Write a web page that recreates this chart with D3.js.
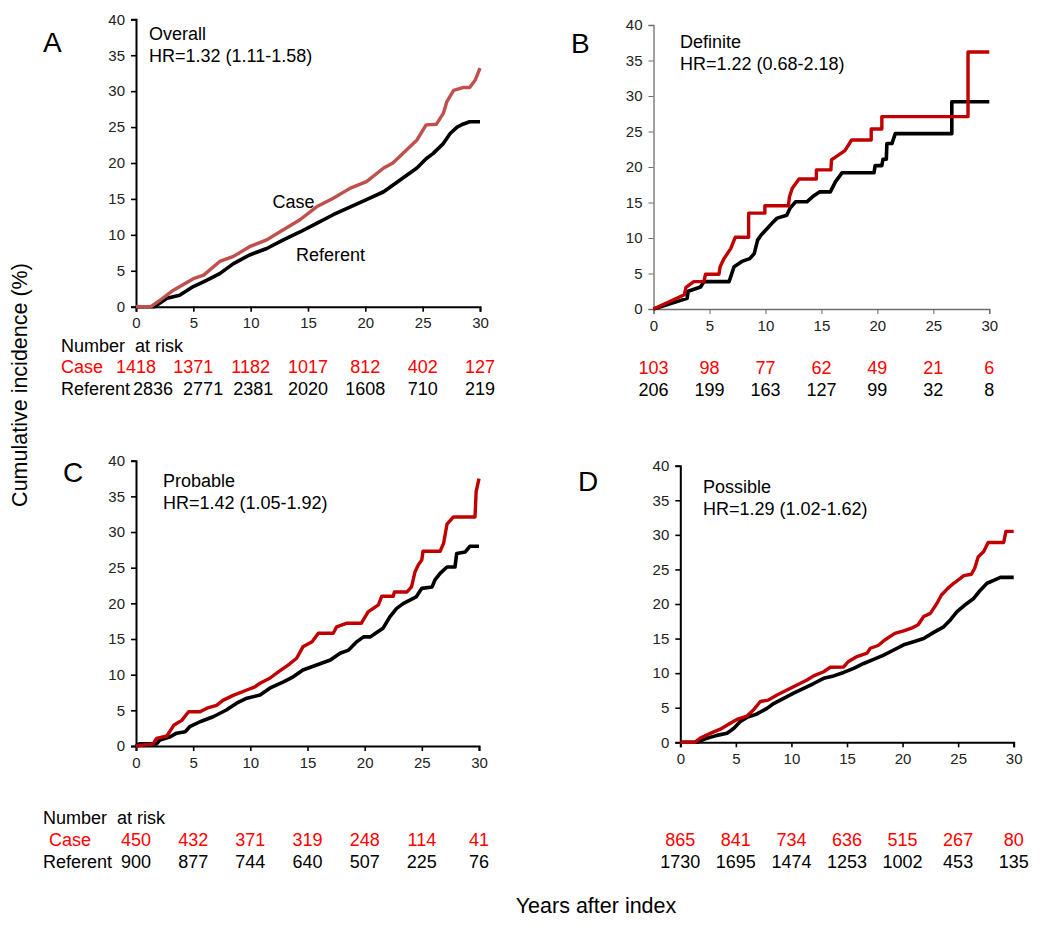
<!DOCTYPE html>
<html>
<head>
<meta charset="utf-8">
<script src="https://cdn.jsdelivr.net/npm/d3@7"></script>
<style>
  html, body { margin: 0; padding: 0; background: #fff; }
  svg { display: block; }
  text { font-family: "Liberation Sans", Arial, sans-serif; }
</style>
</head>
<body>
<svg id="chart" width="1050" height="931"></svg>
<script>
// ---------------- DATA ----------------
const riskYears = [0, 5, 10, 15, 20, 25, 30];
const xTicks = [0, 5, 10, 15, 20, 25, 30];
const yTicks = [0, 5, 10, 15, 20, 25, 30, 35, 40];

// Panel A: Overall
const overallCase = [[0,0],[1.3,0],[2.1,0.9],[3.26,2.3],[5,3.9],[5.9,4.4],[7.3,6.3],[8.5,7.0],[9.9,8.35],[11.4,9.3],[12.85,10.7],[14.3,12.1],[15.75,13.9],[17.2,15.1],[18.7,16.5],[20.1,17.4],[21.6,19.3],[22.4,20.0],[23,20.9],[24.5,23.2],[25.3,25.3],[26.2,25.4],[26.8,26.9],[27.1,28.5],[27.7,30.1],[28.5,30.5],[29.1,30.5],[29.6,31.6],[30,33.2]];
const overallRef = [[0,0],[1.6,0],[2.7,1.16],[3.8,1.6],[5,2.8],[6.2,3.7],[7.3,4.6],[8.5,6.0],[9.9,7.2],[11.4,8.1],[12.85,9.3],[14.3,10.4],[15.75,11.6],[17.2,12.8],[18.7,13.9],[20.1,14.9],[21.6,16.0],[23,17.6],[24.5,19.3],[25.3,20.6],[25.9,21.3],[26.8,22.7],[27.4,24.1],[28,25.0],[28.5,25.4],[29.1,25.75],[30,25.75]];
const overallRiskCase = [1418, 1371, 1182, 1017, 812, 402, 127];
const overallRiskRef = [2836, 2771, 2381, 2020, 1608, 710, 219];

// Panel B: Definite
const definiteCase = [[0,0],[2.75,2.0],[2.9,3.05],[3.6,3.85],[4.5,3.85],[4.65,4.9],[5.85,4.9],[5.95,5.96],[6.3,7.1],[6.9,8.5],[7.3,10.1],[8.5,10.1],[8.5,13.5],[9.95,13.5],[9.95,14.55],[12.05,14.55],[12.15,15.8],[12.4,17.0],[13.0,18.3],[14.55,18.3],[14.55,19.6],[15.85,19.6],[15.9,21.0],[17.1,22.3],[17.7,23.8],[19.45,23.8],[19.45,25.35],[20.4,25.35],[20.4,27.1],[28.1,27.1],[28.1,36.2],[30,36.2]];
const definiteRef = [[0,0],[3.0,1.5],[3.1,2.5],[4.2,3.1],[4.5,3.85],[6.75,3.85],[7.2,5.96],[7.9,6.7],[8.6,7.1],[9.0,7.8],[9.3,9.7],[9.6,10.4],[10.2,11.4],[10.6,12.1],[11.05,12.8],[11.9,13.2],[12.2,14.2],[12.7,15.1],[13.7,15.1],[14.2,15.8],[14.85,16.5],[15.8,16.5],[16.25,17.9],[16.85,19.2],[19.7,19.2],[19.8,20.2],[20.4,20.2],[20.5,21.1],[20.8,21.1],[20.85,23.3],[21.3,23.3],[21.6,24.7],[26.65,24.7],[26.65,29.2],[30,29.2]];
const definiteRiskCase = [103, 98, 77, 62, 49, 21, 6];
const definiteRiskRef = [206, 199, 163, 127, 99, 32, 8];

// Panel C: Probable
const probableCase = [[0,0],[1.5,0.3],[1.8,1.07],[2.7,1.4],[3.3,2.9],[4.0,3.6],[4.6,4.8],[5.6,4.8],[6.2,5.3],[7.05,5.7],[7.6,6.4],[8.5,7.1],[9.7,7.85],[10.4,8.3],[10.85,8.8],[11.7,9.5],[12.45,10.4],[13.3,11.35],[14.05,12.3],[14.6,13.9],[15.4,14.6],[15.95,15.8],[17.25,15.8],[17.55,16.7],[18.4,17.2],[19.7,17.2],[20.3,18.8],[21.2,19.8],[21.5,21.0],[22.5,21.0],[22.6,21.6],[23.7,21.6],[24.1,22.3],[24.4,24.4],[24.7,25.4],[25.0,26.1],[25.1,27.3],[26.6,27.3],[26.9,28.4],[27.2,31.1],[27.75,32.1],[29.65,32.1],[29.75,35.65],[30,37.5]];
const probableRef = [[0,0],[0.3,0.3],[1.8,0.3],[2.1,0.85],[3.0,1.3],[3.55,1.8],[4.3,2.0],[4.7,2.7],[5.6,3.4],[6.75,4.1],[7.9,5.05],[8.8,6.0],[9.7,6.7],[10.85,7.15],[11.7,8.1],[12.9,9.0],[13.75,9.7],[14.6,10.65],[15.8,11.35],[17.0,12.05],[17.85,13.0],[18.6,13.45],[19.3,14.6],[19.9,15.3],[20.5,15.3],[21.05,15.9],[21.6,16.5],[22.2,18.1],[22.8,19.3],[23.4,20.0],[24.0,20.5],[24.5,20.9],[25.0,22.1],[25.9,22.3],[26.15,23.3],[26.6,24.2],[27.2,25.1],[27.9,25.1],[28.05,27.0],[28.8,27.2],[29.2,28.0],[30,28.0]];
const probableRiskCase = [450, 432, 371, 319, 248, 114, 41];
const probableRiskRef = [900, 877, 744, 640, 507, 225, 76];

// Panel D: Possible
const possibleCase = [[0,0],[1.3,0],[1.8,0.6],[2.7,1.3],[3.6,1.9],[4.5,2.75],[5.1,3.3],[6.0,3.8],[6.6,4.7],[7.2,5.9],[7.9,6.1],[8.7,6.85],[9.6,7.55],[10.5,8.3],[11.4,9.0],[12,9.6],[12.9,10.2],[13.5,10.85],[14.7,10.9],[15.1,11.65],[15.9,12.4],[16.8,12.9],[17.1,13.6],[17.8,14.0],[18.4,14.8],[19.3,15.75],[20.1,16.1],[20.8,16.5],[21.4,17.0],[21.9,18.2],[22.5,18.65],[23.1,20.1],[23.5,21.3],[24.1,22.3],[24.6,23.0],[25.2,23.7],[25.5,24.1],[26.2,24.3],[26.5,25.2],[26.8,26.8],[27.3,27.6],[27.7,28.9],[29.1,28.9],[29.3,30.5],[30,30.5]];
const possibleRef = [[0,0],[1.5,0],[2.4,0.6],[3.3,1.0],[4.2,1.3],[4.8,2.0],[5.4,3.0],[6,3.6],[6.9,4.1],[7.8,4.9],[8.4,5.6],[9.3,6.35],[10.2,7.1],[11.1,7.8],[12,8.5],[12.9,9.25],[13.8,9.6],[14.7,10.1],[15.6,10.7],[16.5,11.4],[17.4,12.0],[18.3,12.6],[19.2,13.35],[20.1,14.1],[21,14.55],[21.9,15.0],[22.8,15.9],[23.7,16.7],[24.3,17.7],[24.9,18.9],[25.6,19.85],[26.4,20.8],[27.0,22.0],[27.6,23.0],[28.3,23.5],[28.8,23.85],[30,23.85]];
const possibleRiskCase = [865, 841, 734, 636, 515, 267, 80];
const possibleRiskRef = [1730, 1695, 1474, 1253, 1002, 453, 135];

// ---------------- LAYOUT ----------------
const panels = [
  { letter: "A", lx: 43, ly: 52, x0: 136, x1: 480, yT: 19.3, yB: 306.7,
    caseColor: "#c0504d", axisColor: "#000", axisW: 2,
    cData: overallCase, rData: overallRef, title: "Overall", hr: "HR=1.32 (1.11-1.58)", tx: 149, ty: 40,
    rc: overallRiskCase, rr: overallRiskRef, header: 352, caseY: 373, refY: 395,
    labels: { hx: 61, cx: 61, rx: 61 }, inline: true },
  { letter: "B", lx: 571, ly: 53, x0: 653.5, x1: 989.3, yT: 25, yB: 309,
    caseColor: "#c00000", axisColor: "#6e6e6e", axisW: 1.3,
    cData: definiteCase, rData: definiteRef, title: "Definite", hr: "HR=1.22 (0.68-2.18)", tx: 680, ty: 48,
    rc: definiteRiskCase, rr: definiteRiskRef, header: null, caseY: 374, refY: 396, labels: null },
  { letter: "C", lx: 63, ly: 482, x0: 136, x1: 479, yT: 460.7, yB: 746,
    caseColor: "#c00000", axisColor: "#000", axisW: 2,
    cData: probableCase, rData: probableRef, title: "Probable", hr: "HR=1.42 (1.05-1.92)", tx: 163, ty: 487,
    rc: probableRiskCase, rr: probableRiskRef, header: 824, caseY: 846, refY: 868,
    labels: { hx: 43, cx: 49, rx: 43 } },
  { letter: "D", lx: 578, ly: 491, x0: 680.3, x1: 1013.7, yT: 465.7, yB: 742.3,
    caseColor: "#c00000", axisColor: "#000", axisW: 2,
    cData: possibleCase, rData: possibleRef, title: "Possible", hr: "HR=1.29 (1.02-1.62)", tx: 703, ty: 493,
    rc: possibleRiskCase, rr: possibleRiskRef, header: null, caseY: 846, refY: 868, labels: null }
];

const svg = d3.select("#chart");
svg.append("rect").attr("width", 1050).attr("height", 931).attr("fill", "#fff");

panels.forEach(p => {
  const x = d3.scaleLinear().domain([0, 30]).range([p.x0, p.x1]);
  const y = d3.scaleLinear().domain([0, 40]).range([p.yB, p.yT]);
  const g = svg.append("g");

  // axes
  const gy = g.append("g").attr("transform", `translate(${p.x0},0)`)
    .call(d3.axisLeft(y).tickValues(yTicks).tickSize(5).tickPadding(6));
  const gx = g.append("g").attr("transform", `translate(0,${p.yB})`)
    .call(d3.axisBottom(x).tickValues(xTicks).tickSize(5).tickPadding(6));
  [gx, gy].forEach(a => {
    a.select(".domain").attr("stroke", p.axisColor).attr("stroke-width", p.axisW);
    a.selectAll(".tick line").attr("stroke", p.axisColor).attr("stroke-width", p.axisW * 0.8);
    a.selectAll(".tick text").attr("fill", "#222").style("font-size", "15px")
      .style("font-family", "'Liberation Sans', Arial, sans-serif");
  });

  // lines
  const line = d3.line().x(d => x(d[0])).y(d => y(d[1])).curve(d3.curveLinear);
  g.append("path").datum(p.rData).attr("d", line).attr("fill", "none")
    .attr("stroke", "#000").attr("stroke-width", 3.6).attr("stroke-linejoin", "round");
  g.append("path").datum(p.cData).attr("d", line).attr("fill", "none")
    .attr("stroke", p.caseColor).attr("stroke-width", 3.4).attr("stroke-linejoin", "round");

  // panel letter
  svg.append("text").attr("x", p.lx).attr("y", p.ly).text(p.letter)
    .style("font-size", "28px").attr("fill", "#000");

  // title & HR
  svg.append("text").attr("x", p.tx).attr("y", p.ty).text(p.title).style("font-size", "18px");
  svg.append("text").attr("x", p.tx).attr("y", p.ty + 22).text(p.hr).style("font-size", "18px");

  if (p.inline) {
    svg.append("text").attr("x", x(11.9)).attr("y", y(13.7)).text("Case").style("font-size", "18px");
    svg.append("text").attr("x", x(13.95)).attr("y", y(6.3)).text("Referent").style("font-size", "18px");
  }

  // risk table
  let refLabelEnd = -Infinity, caseLabelEnd = -Infinity;
  if (p.labels) {
    svg.append("text").attr("x", p.labels.hx).attr("y", p.header)
      .attr("xml:space", "preserve").style("white-space", "pre")
      .text("Number  at risk").style("font-size", "18px");
    const cl = svg.append("text").attr("x", p.labels.cx).attr("y", p.caseY)
      .text("Case").style("font-size", "18px").attr("fill", "#ff0000");
    const rl = svg.append("text").attr("x", p.labels.rx).attr("y", p.refY)
      .text("Referent").style("font-size", "18px").attr("fill", "#000");
    caseLabelEnd = p.labels.cx + cl.node().getComputedTextLength();
    refLabelEnd = p.labels.rx + rl.node().getComputedTextLength();
  }
  const placeRow = (vals, yy, color, labelEnd) => {
    let prevRight = labelEnd + 3 - 10;
    vals.forEach((v, i) => {
      const t = svg.append("text").attr("y", yy).text(v)
        .style("font-size", "18px").attr("fill", color).attr("text-anchor", "middle");
      const w = t.node().getComputedTextLength();
      let cx = x(riskYears[i]);
      if (cx - w / 2 < prevRight + 10) cx = prevRight + 10 + w / 2;
      t.attr("x", cx);
      prevRight = cx + w / 2;
    });
  };
  placeRow(p.rc, p.caseY, "#ff0000", caseLabelEnd);
  placeRow(p.rr, p.refY, "#000", refLabelEnd);
});

// global axis titles
svg.append("text").attr("transform", "translate(27,385) rotate(-90)")
  .attr("text-anchor", "middle").text("Cumulative incidence (%)").style("font-size", "21.5px");
svg.append("text").attr("x", 596).attr("y", 913)
  .attr("text-anchor", "middle").text("Years after index").style("font-size", "21.5px");
</script>
</body>
</html>
